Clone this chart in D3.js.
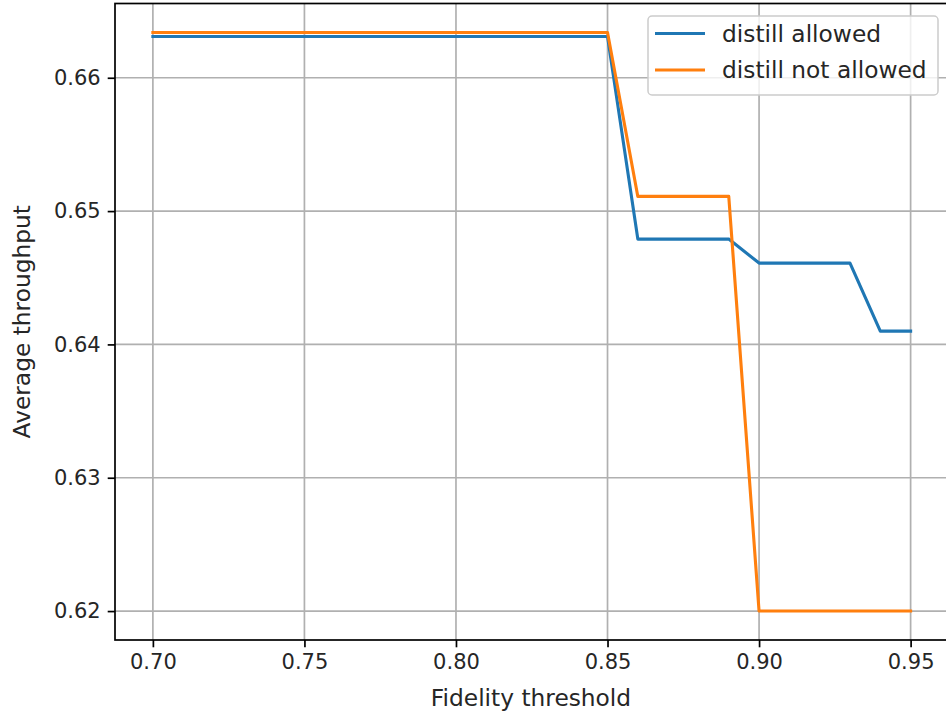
<!DOCTYPE html>
<html><head><meta charset="utf-8">
<script src="https://cdn.jsdelivr.net/npm/d3@7"></script>
<style>
html,body{margin:0;padding:0;background:#fff;}
svg{display:block;font-family:"DejaVu Sans",sans-serif;}
</style></head>
<body><svg id="c" width="946" height="717"></svg>
<script>
const fidelity = [0.70,0.71,0.72,0.73,0.74,0.75,0.76,0.77,0.78,0.79,0.80,0.81,0.82,0.83,0.84,0.85,0.86,0.87,0.88,0.89,0.90,0.91,0.92,0.93,0.94,0.95];
const distillAllowed = [0.6631,0.6631,0.6631,0.6631,0.6631,0.6631,0.6631,0.6631,0.6631,0.6631,0.6631,0.6631,0.6631,0.6631,0.6631,0.6631,0.6479,0.6479,0.6479,0.6479,0.6461,0.6461,0.6461,0.6461,0.6410,0.6410];
const distillNotAllowed = [0.6634,0.6634,0.6634,0.6634,0.6634,0.6634,0.6634,0.6634,0.6634,0.6634,0.6634,0.6634,0.6634,0.6634,0.6634,0.6634,0.6511,0.6511,0.6511,0.6511,0.6200,0.6200,0.6200,0.6200,0.6200,0.6200];
const xTicks = [0.70,0.75,0.80,0.85,0.90,0.95];
const yTicks = [0.62,0.63,0.64,0.65,0.66];
const seriesNames = ["distill allowed","distill not allowed"];
const colors = ["#1f77b4","#ff7f0e"];

const svg = d3.select("#c");
const L=115, R=948.5, T=3.5, B=640;
const xmin=d3.min(fidelity), xmax=d3.max(fidelity), xp=(xmax-xmin)*0.05;
const allY = distillAllowed.concat(distillNotAllowed);
const ymin=d3.min(allY), ymax=d3.max(allY), yp=(ymax-ymin)*0.05;
const x = d3.scaleLinear().domain([xmin-xp, xmax+xp]).range([L,R]);
const y = d3.scaleLinear().domain([ymin-yp, ymax+yp]).range([B,T]);
const fs = 21, fl = 23.3;

// grid
const g = svg.append("g");
g.selectAll(".gx").data(xTicks).enter().append("line")
  .attr("x1",d=>x(d)).attr("x2",d=>x(d)).attr("y1",T).attr("y2",B)
  .attr("stroke","#b0b0b0").attr("stroke-width",1.7);
g.selectAll(".gy").data(yTicks).enter().append("line")
  .attr("x1",L).attr("x2",R).attr("y1",d=>y(d)).attr("y2",d=>y(d))
  .attr("stroke","#b0b0b0").attr("stroke-width",1.7);

// lines
const line = d3.line().x((d,i)=>x(fidelity[i])).y(d=>y(d));
[distillAllowed, distillNotAllowed].forEach((s,k)=>{
  svg.append("path").datum(s).attr("d",line).attr("fill","none")
    .attr("stroke",colors[k]).attr("stroke-width",3.1)
    .attr("stroke-linejoin","round").attr("stroke-linecap","square");
});

// axes
const xAxis = d3.axisBottom(x).tickValues(xTicks).tickFormat(d3.format(".2f")).tickSize(7.3).tickPadding(7).tickSizeOuter(0);
const yAxis = d3.axisLeft(y).tickValues(yTicks).tickFormat(d3.format(".2f")).tickSize(7.3).tickPadding(7).tickSizeOuter(0);
const gx = svg.append("g").attr("transform",`translate(0,${B})`).call(xAxis);
const gy = svg.append("g").attr("transform",`translate(${L},0)`).call(yAxis);
[gx,gy].forEach(a=>{
  a.select(".domain").remove();
  a.selectAll(".tick line").attr("stroke","#000").attr("stroke-width",1.7);
  a.selectAll(".tick text").attr("fill","#262626").style("font-size",fs+"px").style("font-family","DejaVu Sans");
});
gx.selectAll(".tick text").attr("dy","0.71em");
// spines
svg.append("rect").attr("x",L).attr("y",T).attr("width",R-L).attr("height",B-T)
  .attr("fill","none").attr("stroke","#000").attr("stroke-width",1.7);

// labels
svg.append("text").attr("x",531).attr("y",706).attr("text-anchor","middle")
  .style("font-size",fl+"px").attr("fill","#262626").text("Fidelity threshold");
svg.append("text").attr("transform",`translate(30,${(T+B)/2}) rotate(-90)`).attr("text-anchor","middle")
  .style("font-size",fl+"px").attr("fill","#262626").text("Average throughput");

// legend
const lg = svg.append("g");
lg.append("rect").attr("x",648).attr("y",16).attr("width",290).attr("height",79).attr("rx",4)
  .attr("fill","#fff").attr("fill-opacity",0.8).attr("stroke","#cccccc").attr("stroke-width",1.5);
seriesNames.forEach((n,i)=>{
  const yy = 33.5 + i*36.5;
  lg.append("line").attr("x1",655).attr("x2",705).attr("y1",yy).attr("y2",yy)
    .attr("stroke",colors[i]).attr("stroke-width",3.1);
  lg.append("text").attr("x",722).attr("y",yy+8.3).style("font-size",fl+"px").attr("fill","#262626").text(n);
});
</script></body></html>
